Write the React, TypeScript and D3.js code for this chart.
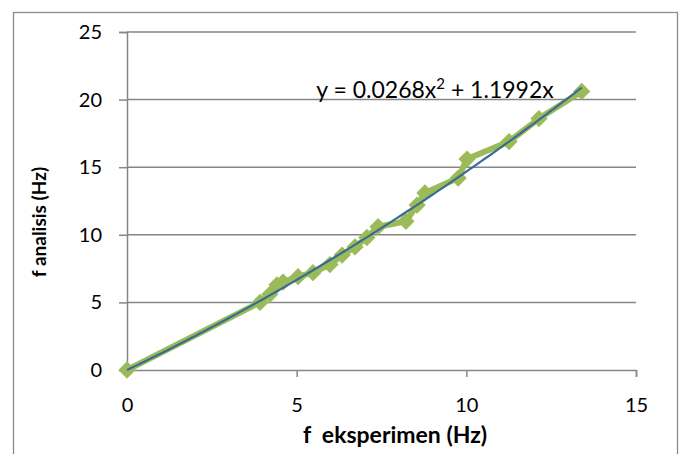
import React, { useEffect, useRef } from 'react';
import * as d3 from 'd3';

const fEksperimen = [0, 3.92, 4.21, 4.42, 4.6, 5.04, 5.48, 5.98, 6.34, 6.72, 7.07, 7.4, 8.22, 8.55, 8.78, 9.76, 10.02, 11.26, 12.14, 13.4];
const fAnalisis = [0, 5.0, 5.6, 6.3, 6.5, 6.9, 7.2, 7.8, 8.5, 9.1, 9.8, 10.6, 11.0, 12.2, 13.1, 14.2, 15.6, 16.9, 18.6, 20.6];
const xTicks = [0, 5, 10, 15];
const yTicks = [0, 5, 10, 15, 20, 25];
const trendA = 0.0268;
const trendB = 1.1992;

const W = 683, H = 454;
const FONT = 'Lato, "Open Sans", sans-serif';

const App = () => {
  const svgRef = useRef<SVGSVGElement>(null);

  useEffect(() => {
    const svg = d3.select(svgRef.current);
    svg.selectAll('*').remove();

    const x = d3.scaleLinear().domain([0, 15]).range([127, 636]);
    const y = d3.scaleLinear().domain([0, 25]).range([370, 32]);

    // chart border
    svg.append('rect')
      .attr('x', 13.5).attr('y', 12.5)
      .attr('width', 664).attr('height', 460)
      .attr('fill', 'none').attr('stroke', '#8c8c8c').attr('stroke-width', 1.3);

    // gridlines
    svg.append('g').selectAll('line').data(yTicks.slice(1)).enter().append('line')
      .attr('x1', x(0)).attr('x2', x(15))
      .attr('y1', d => y(d)).attr('y2', d => y(d))
      .attr('stroke', '#868686').attr('stroke-width', 1.5);

    // y axis
    const yAxis = svg.append('g').attr('transform', `translate(${x(0)},0)`)
      .call(d3.axisLeft(y).tickValues(yTicks).tickSize(8).tickPadding(17).tickFormat(d3.format('d')));
    yAxis.select('.domain').attr('stroke', '#868686').attr('stroke-width', 1.5);
    yAxis.selectAll('.tick line').attr('stroke', '#868686').attr('stroke-width', 1.5);
    yAxis.selectAll('text').attr('font-family', FONT).attr('font-size', 20).attr('fill', '#000');

    // x axis
    const xAxis = svg.append('g').attr('transform', `translate(0,${y(0)})`)
      .call(d3.axisBottom(x).tickValues(xTicks).tickSize(7).tickPadding(21).tickFormat(d3.format('d')));
    xAxis.select('.domain').attr('stroke', '#868686').attr('stroke-width', 1.5);
    xAxis.selectAll('.tick line').attr('stroke', '#868686').attr('stroke-width', 1.5);
    xAxis.selectAll('text').attr('font-family', FONT).attr('font-size', 20).attr('fill', '#000');

    const pts = fEksperimen.map((v, i) => [v, fAnalisis[i]] as [number, number]);

    // data line
    svg.append('path')
      .datum(pts)
      .attr('d', d3.line().x(d => x(d[0])).y(d => y(d[1])))
      .attr('fill', 'none').attr('stroke', '#9bbb59').attr('stroke-width', 6)
      .attr('stroke-linejoin', 'round');

    // markers
    const diamond = d3.symbol().type(d3.symbolDiamond2).size(190);
    svg.append('g').selectAll('path').data(pts).enter().append('path')
      .attr('d', diamond)
      .attr('transform', d => `translate(${x(d[0])},${y(d[1])})`)
      .attr('fill', '#9bbb59');

    // trend line
    const xMax = d3.max(fEksperimen) as number;
    const trendPts = d3.range(0, 101).map(i => {
      const xv = (xMax * i) / 100;
      return [xv, trendA * xv * xv + trendB * xv] as [number, number];
    });
    svg.append('path')
      .datum(trendPts)
      .attr('d', d3.line().x(d => x(d[0])).y(d => y(d[1])))
      .attr('fill', 'none').attr('stroke', '#3a6b94').attr('stroke-width', 2.2);

    // equation
    const eq = svg.append('text')
      .attr('x', 435).attr('y', 98)
      .attr('text-anchor', 'middle')
      .attr('font-family', FONT).attr('font-size', 23).attr('fill', '#000');
    eq.append('tspan').text(`y = ${trendA}x`);
    eq.append('tspan').attr('dy', -9).attr('font-size', 15).text('2');
    eq.append('tspan').attr('dy', 9).text(` + ${trendB}x`);

    // axis titles
    svg.append('text')
      .attr('x', 395).attr('y', 443)
      .attr('text-anchor', 'middle')
      .attr('font-family', FONT).attr('font-size', 23).attr('font-weight', 'bold')
      .attr('xml:space', 'preserve')
      .text('f  eksperimen (Hz)');

    svg.append('text')
      .attr('transform', 'translate(46,222) rotate(-90)')
      .attr('text-anchor', 'middle')
      .attr('font-family', FONT).attr('font-size', 19).attr('font-weight', 'bold')
      .text('f analisis (Hz)');
  }, []);

  return (
    <svg ref={svgRef} width={W} height={H}
      style={{ position: 'absolute', left: 0, top: 0, background: '#fff' }} />
  );
};

export default App;
